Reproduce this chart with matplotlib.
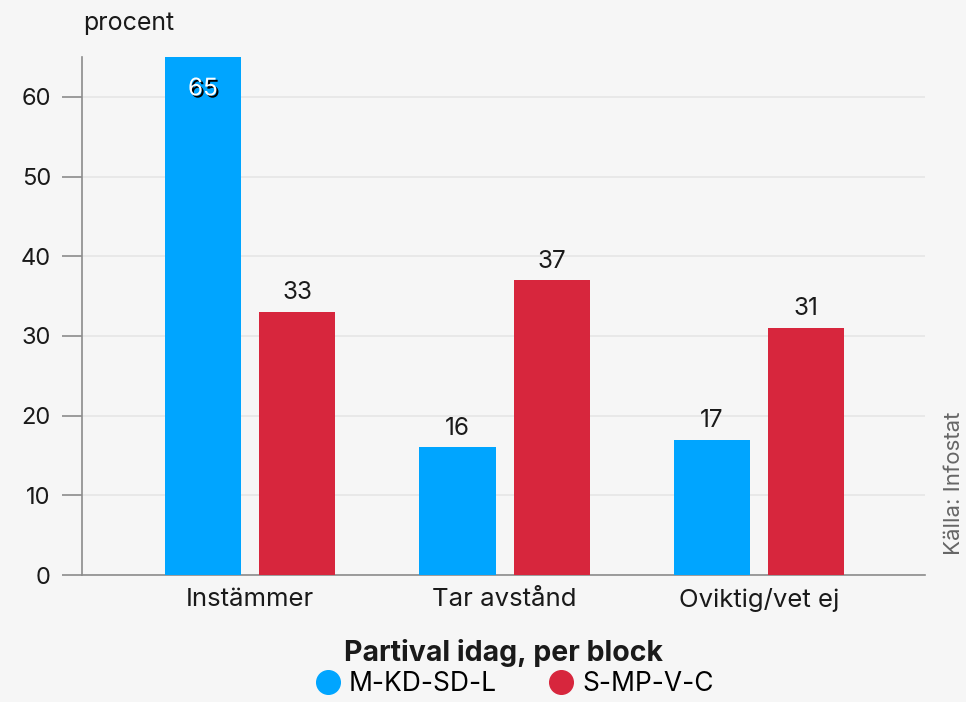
import numpy as np
import matplotlib.pyplot as plt
import matplotlib.patheffects as pe

plt.rcParams['font.family'] = ['Inter', 'DejaVu Sans']

categories = ["Instämmer", "Tar avstånd", "Oviktig/vet ej"]
series = ["M-KD-SD-L", "S-MP-V-C"]
blue_vals = [65, 16, 17]
red_vals = [33, 37, 31]
yticks = [0, 10, 20, 30, 40, 50, 60]

blue = "#00a5ff"
red = "#d7263d"
bg = "#f6f6f6"
axis_gray = "#8c8c8c"

fig = plt.figure(figsize=(9.66, 7.02), dpi=100, facecolor=bg)
ax = fig.add_axes([0.0849, 0.1809, 0.8727, 0.7379], facecolor=bg)

x = np.arange(len(categories))
w = 0.299
off = 0.185
ax.bar(x - off, blue_vals, w, color=blue, label=series[0], zorder=3)
ax.bar(x + off, red_vals, w, color=red, label=series[1], zorder=3)

lbl_size = 17.5
for xi, v in zip(x - off, blue_vals):
    if v > 60:
        ax.text(xi, v - 4, str(v), ha="center", va="center", fontsize=lbl_size,
                color="white", zorder=4,
                path_effects=[pe.withSimplePatchShadow(offset=(1.5, -1.5),
                                                       shadow_rgbFace="black", alpha=1.0)])
    else:
        ax.text(xi, v + 2.4, str(v), ha="center", va="center", fontsize=lbl_size,
                color="#1a1a1a", zorder=4)
for xi, v in zip(x + off, red_vals):
    ax.text(xi, v + 2.4, str(v), ha="center", va="center", fontsize=lbl_size,
            color="#1a1a1a", zorder=4)

ax.set_xlim(-0.660, 2.652)
ax.set_ylim(0, 65)
ax.set_yticks(yticks)
ax.set_xticks(x)
ax.set_xticklabels(categories, fontsize=18.5, color="#1a1a1a")
ax.tick_params(axis="y", length=14.4, width=1.2, color=axis_gray, pad=8,
               labelsize=17, labelcolor="#1a1a1a")
ax.tick_params(axis="x", length=0, pad=9)
ax.grid(axis="y", color="#e6e6e6", linewidth=1.2, zorder=0)

for s in ["top", "right"]:
    ax.spines[s].set_visible(False)
for s in ["left", "bottom"]:
    ax.spines[s].set_color(axis_gray)
    ax.spines[s].set_linewidth(1.2)

ax.set_xlabel("Partival idag, per block", fontsize=20.5, fontweight="bold",
              color="#1a1a1a", labelpad=20)

fig.text(0.086, 0.966, "procent", fontsize=18, color="#1a1a1a", ha="left", va="center")
fig.text(0.988, 0.312, "Källa: Infostat", fontsize=16, color="#666666",
         rotation=90, ha="center", va="center")

h1 = plt.Line2D([], [], marker="o", linestyle="", color=blue, markersize=17)
h2 = plt.Line2D([], [], marker="o", linestyle="", color=red, markersize=17)
fig.legend([h1, h2], series, loc="lower center", bbox_to_anchor=(0.531, -0.027),
           ncol=2, frameon=False, fontsize=19, handletextpad=0.2, columnspacing=1.83,
           handlelength=1.2)

fig.savefig("out.png", dpi=100, facecolor=bg)
